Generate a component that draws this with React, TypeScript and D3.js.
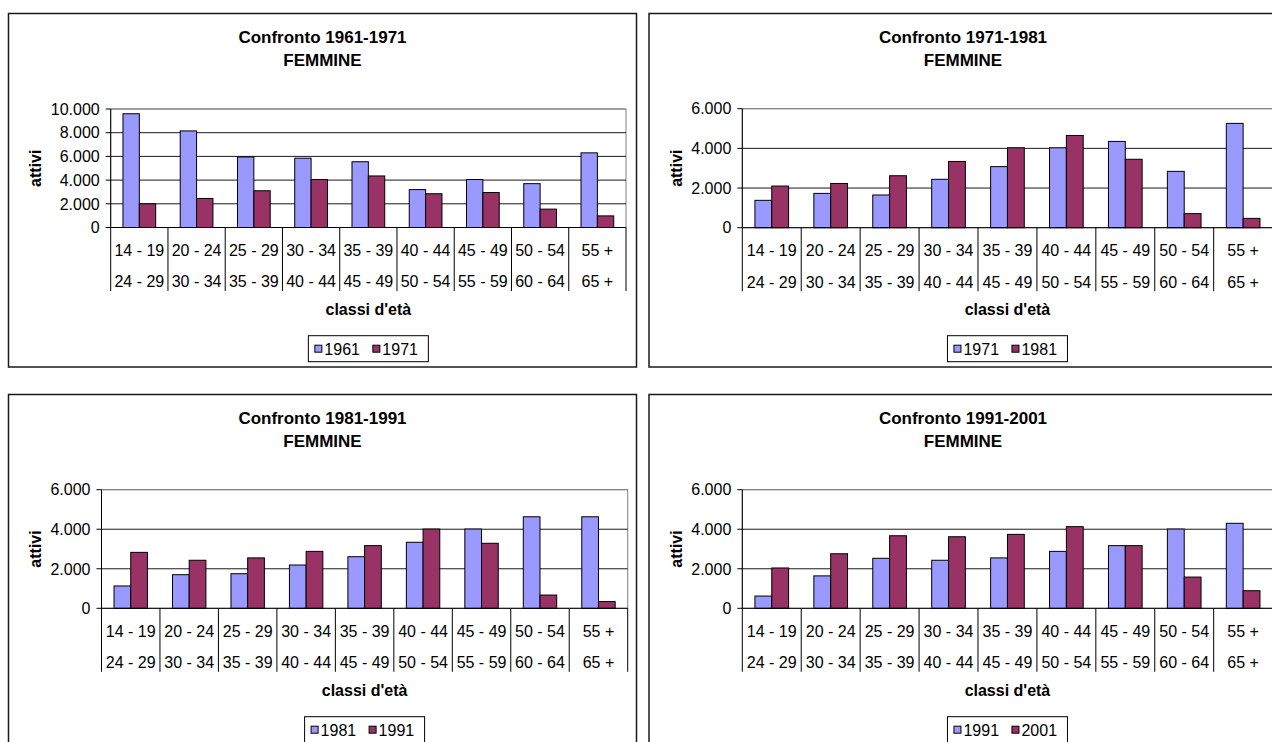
import React from "react";
import * as d3 from "d3";

// ---------- DATA ----------
const ageRow1 = ["14 - 19", "20 - 24", "25 - 29", "30 - 34", "35 - 39", "40 - 44", "45 - 49", "50 - 54", "55 +"];
const ageRow2 = ["24 - 29", "30 - 34", "35 - 39", "40 - 44", "45 - 49", "50 - 54", "55 - 59", "60 - 64", "65 +"];

const titlesA = ["Confronto 1961-1971", "FEMMINE"];
const seriesNamesA = ["1961", "1971"];
const valuesA1961 = [9600, 8150, 5950, 5850, 5550, 3200, 4050, 3700, 6300];
const valuesA1971 = [2000, 2450, 3100, 4050, 4350, 2850, 2950, 1550, 980];
const yTicksA = [0, 2000, 4000, 6000, 8000, 10000];

const titlesB = ["Confronto 1971-1981", "FEMMINE"];
const seriesNamesB = ["1971", "1981"];
const valuesB1971 = [1380, 1730, 1650, 2440, 3080, 4030, 4350, 2840, 5260];
const valuesB1981 = [2100, 2230, 2620, 3340, 4030, 4650, 3450, 710, 470];
const yTicksB = [0, 2000, 4000, 6000];

const titlesC = ["Confronto 1981-1991", "FEMMINE"];
const seriesNamesC = ["1981", "1991"];
const valuesC1981 = [1130, 1700, 1750, 2190, 2610, 3340, 4010, 4630, 4630];
const valuesC1991 = [2830, 2430, 2550, 2880, 3170, 4010, 3290, 670, 340];
const yTicksC = [0, 2000, 4000, 6000];

const titlesD = ["Confronto 1991-2001", "FEMMINE"];
const seriesNamesD = ["1991", "2001"];
const valuesD1991 = [620, 1640, 2530, 2430, 2550, 2880, 3170, 4010, 4300];
const valuesD2001 = [2040, 2760, 3670, 3620, 3740, 4130, 3170, 1580, 890];
const yTicksD = [0, 2000, 4000, 6000];

const xTitle = "classi d'età";
const yTitle = "attivi";

const colors = ["#9999FF", "#993366"];
const FONT = "'Liberation Sans', Arial, sans-serif";

const itLocale = d3.formatLocale({ decimal: ",", thousands: ".", grouping: [3], currency: ["", " €"] });
const fmt = itLocale.format(",");

type PanelProps = {
  x: number; y: number; w: number; h: number;
  plotL: number; plotR: number; plotT: number; plotB: number;
  titles: string[]; names: string[]; s1: number[]; s2: number[]; ticks: number[];
};

function Panel(p: PanelProps) {
  const { x, y, w, h, plotL, plotR, plotT, plotB } = p;
  const maxV = p.ticks[p.ticks.length - 1];
  const xs = d3.scaleBand<string>().domain(ageRow1).range([plotL, plotR]).paddingInner(0).paddingOuter(0);
  const ys = d3.scaleLinear().domain([0, maxV]).range([plotB, plotT]);
  const bw = xs.bandwidth();
  const barW = bw / 3.5;
  const off = bw * 0.75 / 3.5;
  const cx = (plotL + plotR) / 2;
  const boundaries = ageRow1.map((c) => xs(c) as number).concat([plotR]);
  const legendW = 120;
  const legendX = cx - legendW / 2;
  const legendY = y + 322.2;
  const titleX = x + 314;
  return (
    <g>
      <rect x={x} y={y} width={w} height={h} fill="#fff" stroke="#1a1a1a" strokeWidth={1.5} />
      <text x={titleX} y={y + 29} textAnchor="middle" fontFamily={FONT} fontWeight="bold" fontSize={17}>{p.titles[0]}</text>
      <text x={titleX} y={y + 52.5} textAnchor="middle" fontFamily={FONT} fontWeight="bold" fontSize={17}>{p.titles[1]}</text>
      {/* plot area border */}
      <rect x={plotL} y={plotT} width={plotR - plotL} height={plotB - plotT} fill="#fff" stroke="#808080" strokeWidth={1} />
      {/* gridlines */}
      {p.ticks.filter((t) => t > 0).map((t) => (
        <line key={"g" + t} x1={plotL} x2={plotR} y1={ys(t)} y2={ys(t)} stroke={t === maxV ? "#808080" : "#1a1a1a"} strokeWidth={1} />
      ))}
      {/* bars */}
      {ageRow1.map((c, i) => (
        <g key={"b" + i}>
          <rect x={(xs(c) as number) + off} y={ys(p.s1[i])} width={barW} height={plotB - ys(p.s1[i])} fill={colors[0]} stroke="#000" strokeWidth={1} />
          <rect x={(xs(c) as number) + off + barW} y={ys(p.s2[i])} width={barW} height={plotB - ys(p.s2[i])} fill={colors[1]} stroke="#000" strokeWidth={1} />
        </g>
      ))}
      {/* y axis */}
      <line x1={plotL} x2={plotL} y1={plotT} y2={plotB} stroke="#000" strokeWidth={1} />
      {p.ticks.map((t) => (
        <g key={"t" + t}>
          <line x1={plotL - 5} x2={plotL} y1={ys(t)} y2={ys(t)} stroke="#000" strokeWidth={1} />
          <text x={plotL - 11} y={ys(t)} dy="0.36em" textAnchor="end" fontFamily={FONT} fontSize={16}>{fmt(t)}</text>
        </g>
      ))}
      {/* x axis */}
      <line x1={plotL} x2={plotR} y1={plotB} y2={plotB} stroke="#000" strokeWidth={1} />
      {boundaries.map((bx, i) => (
        <line key={"s" + i} x1={bx} x2={bx} y1={plotB} y2={plotB + 63.5} stroke="#000" strokeWidth={1} />
      ))}
      {ageRow1.map((c, i) => (
        <g key={"l" + i}>
          <text x={(xs(c) as number) + bw / 2} y={plotB + 28.5} textAnchor="middle" fontFamily={FONT} fontSize={16}>{c}</text>
          <text x={(xs(c) as number) + bw / 2} y={plotB + 59.8} textAnchor="middle" fontFamily={FONT} fontSize={16}>{ageRow2[i]}</text>
        </g>
      ))}
      <text x={cx} y={plotB + 87.5} textAnchor="middle" fontFamily={FONT} fontWeight="bold" fontSize={16}>{xTitle}</text>
      <text transform={`translate(${x + 32.5},${(plotT + plotB) / 2}) rotate(-90)`} textAnchor="middle" fontFamily={FONT} fontWeight="bold" fontSize={16}>{yTitle}</text>
      {/* legend */}
      <rect x={legendX} y={legendY} width={legendW} height={26} fill="#fff" stroke="#000" strokeWidth={1} />
      {p.names.map((n, i) => (
        <g key={"lg" + i}>
          <rect x={legendX + 6.5 + i * 58} y={legendY + 9.5} width={7} height={7} fill={colors[i]} stroke="#000" strokeWidth={1} />
          <text x={legendX + 16 + i * 58} y={legendY + 18.8} fontFamily={FONT} fontSize={16}>{n}</text>
        </g>
      ))}
    </g>
  );
}

export default function App() {
  return (
    <svg width={1272} height={742} style={{ position: "absolute", left: 0, top: 0, background: "#fff" }}>
      <rect x={0} y={0} width={1272} height={742} fill="#fff" />
      <Panel x={8.5} y={13.5} w={628} h={353.5} plotL={110.7} plotR={626} plotT={109} plotB={227.5}
        titles={titlesA} names={seriesNamesA} s1={valuesA1961} s2={valuesA1971} ticks={yTicksA} />
      <Panel x={649} y={13.5} w={640} h={353.5} plotL={742.3} plotR={1272.6} plotT={108.7} plotB={227.7}
        titles={titlesB} names={seriesNamesB} s1={valuesB1971} s2={valuesB1981} ticks={yTicksB} />
      <Panel x={8.5} y={394.5} w={628} h={360} plotL={101.5} plotR={627.7} plotT={489.7} plotB={608.3}
        titles={titlesC} names={seriesNamesC} s1={valuesC1981} s2={valuesC1991} ticks={yTicksC} />
      <Panel x={649} y={394.5} w={640} h={360} plotL={742.3} plotR={1272.6} plotT={489.7} plotB={608.3}
        titles={titlesD} names={seriesNamesD} s1={valuesD1991} s2={valuesD2001} ticks={yTicksD} />
    </svg>
  );
}
